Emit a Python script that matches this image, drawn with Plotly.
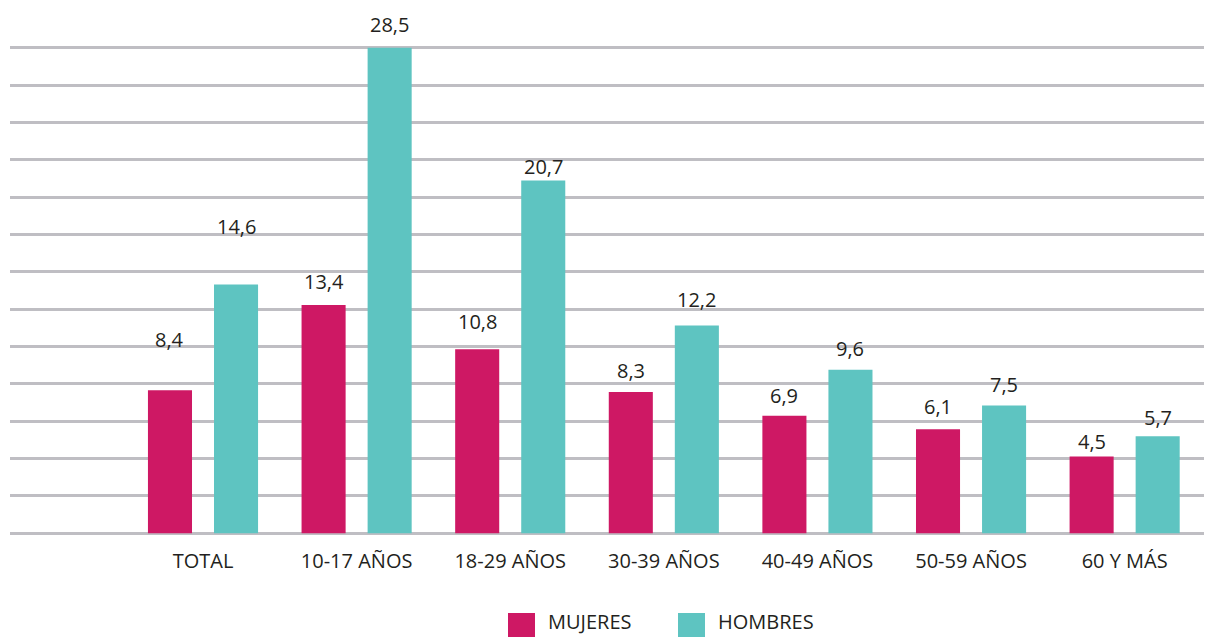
import plotly.graph_objects as go

# Age groups and rates by sex
categorias = ["TOTAL", "10-17 AÑOS", "18-29 AÑOS", "30-39 AÑOS",
              "40-49 AÑOS", "50-59 AÑOS", "60 Y MÁS"]
mujeres = [8.4, 13.4, 10.8, 8.3, 6.9, 6.1, 4.5]
hombres = [14.6, 28.5, 20.7, 12.2, 9.6, 7.5, 5.7]
etiquetas_mujeres = ["8,4", "13,4", "10,8", "8,3", "6,9", "6,1", "4,5"]
etiquetas_hombres = ["14,6", "28,5", "20,7", "12,2", "9,6", "7,5", "5,7"]
series = ["MUJERES", "HOMBRES"]

# Styling
COLOR_M = "#CE1864"
COLOR_H = "#5EC4C1"
GRID = "#BFBEC3"
TEXT = "#231F20"
FONT = "Open Sans"
W, H = 1206, 637
ML, MR, MT, MB = 10, 2, 46, 102
BARGAP, BARGROUPGAP = 0.14, 0.333

# Vertical lift (px) of each value label above its bar
lift_m = [51, 23, 28, 21, 20, 23, 15]
lift_h = [58, 23, 14, 26, 21, 21, 19]

Y_MAX = 28.5
fig = go.Figure()
fig.add_trace(go.Bar(x=categorias, y=mujeres, name=series[0],
                     marker=dict(color=COLOR_M, line=dict(width=0)),
                     showlegend=False, hoverinfo="x+y"))
fig.add_trace(go.Bar(x=categorias, y=hombres, name=series[1],
                     marker=dict(color=COLOR_H, line=dict(width=0)),
                     showlegend=False, hoverinfo="x+y"))

# Value labels above each bar
off = (1 - BARGAP) / 4
for i in range(len(categorias)):
    for vals, labs, lifts, sign in ((mujeres, etiquetas_mujeres, lift_m, -1),
                                    (hombres, etiquetas_hombres, lift_h, 1)):
        fig.add_annotation(x=i + sign * off, y=vals[i], xref="x", yref="y",
                           text=labs[i], showarrow=False, yanchor="middle",
                           xanchor="center", yshift=lifts[i],
                           font=dict(family=FONT, size=20, color=TEXT))

# Legend built from square swatches and labels
plot_w = W - ML - MR
plot_h = H - MT - MB


def px_x(px):
    return (px - ML) / plot_w


def px_y(py):
    return (H - MB - py) / plot_h


legend_items = [(508, series[0], COLOR_M), (678, series[1], COLOR_H)]
for x0, label, color in legend_items:
    fig.add_shape(type="rect", xref="paper", yref="paper",
                  x0=px_x(x0), x1=px_x(x0 + 27), y0=px_y(637), y1=px_y(613),
                  fillcolor=color, line=dict(width=0), layer="above")
    fig.add_annotation(xref="paper", yref="paper", x=px_x(x0 + 38), y=px_y(637),
                       text=label, showarrow=False, xanchor="left",
                       yanchor="bottom",
                       font=dict(family=FONT, size=20, color=TEXT))

fig.update_layout(
    width=W, height=H,
    margin=dict(l=ML, r=MR, t=MT, b=MB, pad=0),
    paper_bgcolor="white", plot_bgcolor="white",
    barmode="group", bargap=BARGAP, bargroupgap=BARGROUPGAP,
    font=dict(family=FONT, size=20, color=TEXT),
    xaxis=dict(type="category", range=[-1.2565, 6.5166],
               showgrid=False, zeroline=False, showline=False,
               ticks="", tickfont=dict(family=FONT, size=20, color=TEXT),
               ticklabelstandoff=12),
    yaxis=dict(range=[-0.1, Y_MAX + 0.1], tick0=0, dtick=Y_MAX / 13,
               showgrid=True, gridcolor=GRID, gridwidth=2.5,
               zeroline=False, showline=False, showticklabels=False,
               ticks=""),
)

fig.write_html("out.html")
